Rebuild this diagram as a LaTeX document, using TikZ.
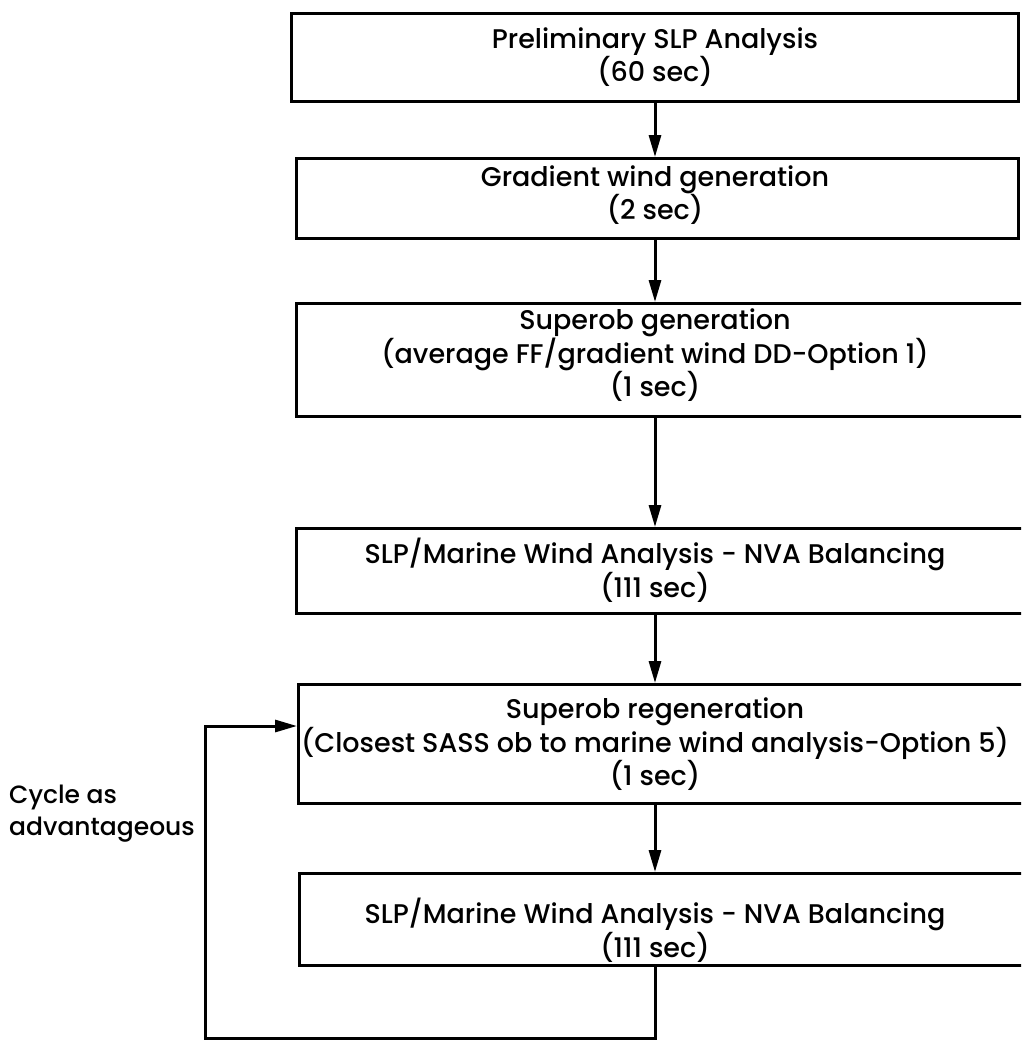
\documentclass[tikz,border=0pt]{standalone}
\usepackage{fontspec}
\setmainfont{Poppins Medium}
\usetikzlibrary{arrows.meta}
\newcommand\mylblfont{\fontsize{27}{31}\selectfont}
\newcommand\mycycfont{\fontsize{25}{32}\selectfont}
\begin{document}
\begin{tikzpicture}[x=1pt,y=-1pt,
  box/.style={draw, line width=3.2pt, anchor=north west, minimum width=760pt, inner sep=0pt},
  lbl/.style={align=center, font=\mylblfont, inner sep=0pt},
  arr/.style={line width=3pt, -{Triangle[length=22pt,width=12pt]}},
  ln/.style={line width=3pt}]
\useasboundingbox (0,0) rectangle (1021,1042);
\clip (0,0) rectangle (1021,1042);
\node[box, minimum height=88pt, minimum width=727pt] (b1) at (290,12) {};
\node[box, minimum height=80pt, minimum width=722pt] (b2) at (295,157) {};
\node[box, minimum height=113pt] (b3) at (295,302) {};
\node[box, minimum height=85pt] (b4) at (295,527) {};
\node[box, minimum height=119pt] (b5) at (297,683) {};
\node[box, minimum height=92pt] (b6) at (298,872) {};
\node[lbl] (t1) at (655,57) {Preliminary SLP Analysis\\(60 sec)};
\node[lbl] (t2) at (655,195) {Gradient wind generation\\(2 sec)};
\node[lbl] (t3) at (655,355) {Superob generation\\(average FF/gradient wind DD-Option 1)\\(1 sec)};
\node[lbl] (t4) at (655,570) {SLP/Marine Wind Analysis - NVA Balancing\\(111 sec)};
\node[lbl] (t5) at (655,744) {Superob regeneration\\(Closest SASS ob to marine wind analysis-Option 5)\\(1 sec)};
\node[lbl] (t6) at (655,930) {SLP/Marine Wind Analysis - NVA Balancing\\(111 sec)};
\node[lbl, align=left, anchor=west, font=\mycycfont] (cyc) at (9,814) {Cycle as\\advantageous};
\draw[arr] (t1 |- b1.south) -- (t2 |- b2.north);
\draw[arr] (t2 |- b2.south) -- (t3 |- b3.north);
\draw[arr] (t3 |- b3.south) -- (t4 |- b4.north);
\draw[arr] (t4 |- b4.south) -- (t5 |- b5.north);
\draw[arr] (t5 |- b5.south) -- (t6 |- b6.north);
\coordinate (c1) at (t6 |- 0,1038);
\coordinate (c2) at (205,1038);
\draw[arr] (t6 |- b6.south) -- (c1) -- (c2) -- (c2 |- 0,726) -- (b5.west |- 0,726);
\end{tikzpicture}
\end{document}
